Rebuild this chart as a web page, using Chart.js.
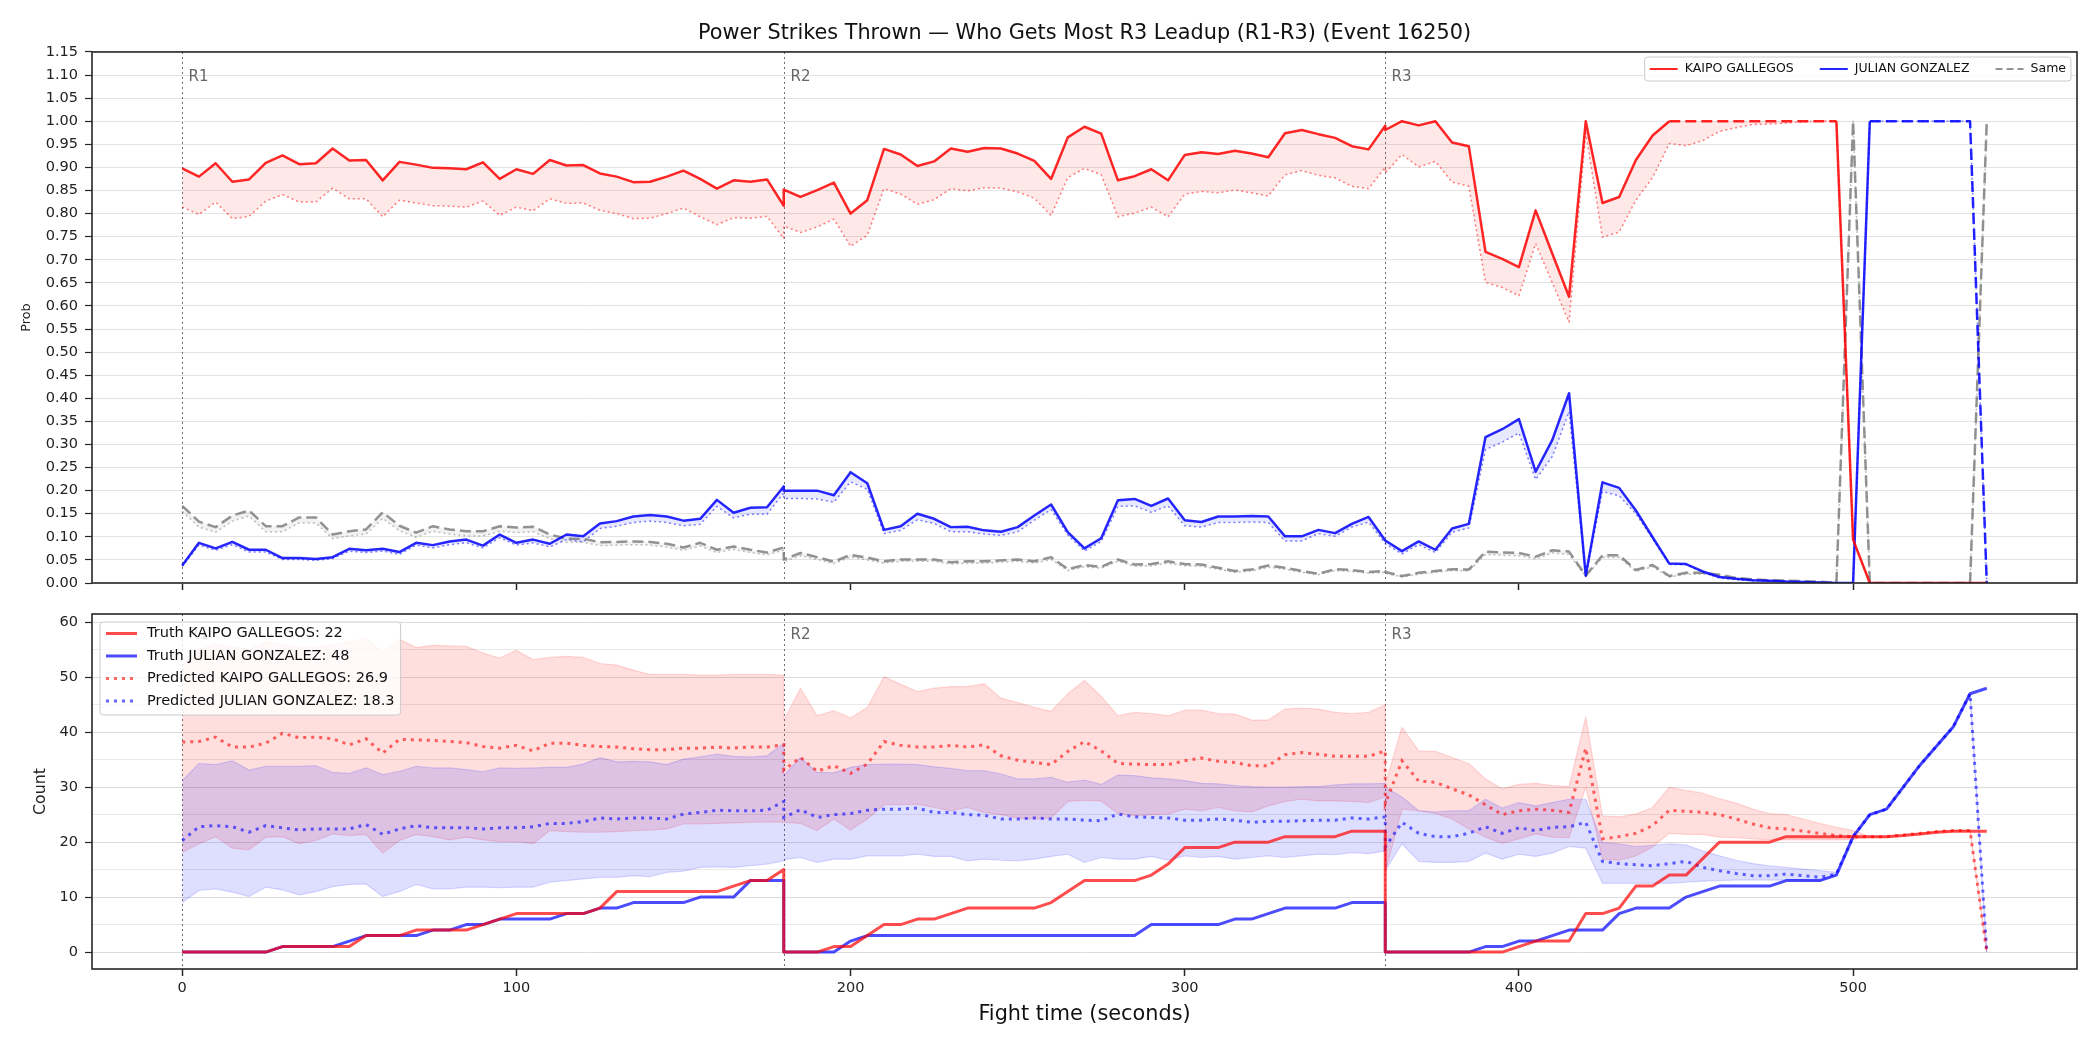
<!DOCTYPE html>
<html>
<head>
<meta charset="utf-8">
<title>Power Strikes Thrown</title>
<script src="https://cdn.jsdelivr.net/npm/chart.js@4.4.1/dist/chart.umd.min.js"></script>
<style>
  html, body { margin: 0; padding: 0; background: #fff; }
  #wrap { position: relative; width: 2100px; height: 1050px; }
  #probCanvas { position: absolute; left: 0; top: 0; width: 2100px; height: 600px; }
  #countCanvas { position: absolute; left: 0; top: 600px; width: 2100px; height: 450px; }
</style>
</head>
<body>
<div id="wrap">
  <canvas id="probCanvas" width="2100" height="600"></canvas>
  <canvas id="countCanvas" width="2100" height="450"></canvas>
</div>
<script>
const FONT = "'DejaVu Sans', sans-serif";

// fight time (s) — each round restarts at its boundary, so 180 and 360 appear twice
const timeSec = [
  0, 5, 10, 15, 20, 25, 30, 35, 40, 45, 50, 55, 60, 65, 70, 75, 80, 85, 90, 95, 100, 105, 110, 115, 120, 125, 130, 135, 140, 145, 150, 155, 160, 165, 170, 175, 180,
  180, 185, 190, 195, 200, 205, 210, 215, 220, 225, 230, 235, 240, 245, 250, 255, 260, 265, 270, 275, 280, 285, 290, 295, 300, 305, 310, 315, 320, 325, 330, 335, 340, 345, 350, 355, 360,
  360, 365, 370, 375, 380, 385, 390, 395, 400, 405, 410, 415, 420, 425, 430, 435, 440, 445, 450, 455, 460, 465, 470, 475, 480, 485, 490, 495, 500, 505, 510, 515, 520, 525, 530, 535, 540
];

// probabilities
const kaipoProb = [
  0.898, 0.880, 0.909, 0.869, 0.874, 0.910, 0.926, 0.907, 0.909, 0.941, 0.915, 0.916, 0.872, 0.912, 0.906, 0.899, 0.898, 0.896, 0.911, 0.875, 0.896, 0.886, 0.916, 0.904, 0.905, 0.887, 0.880, 0.868, 0.869, 0.880, 0.893, 0.875, 0.854, 0.872, 0.869, 0.874, 0.817,
  0.852, 0.836, 0.851, 0.867, 0.800, 0.829, 0.940, 0.928, 0.903, 0.913, 0.941, 0.934, 0.942, 0.941, 0.930, 0.914, 0.875, 0.965, 0.988, 0.973, 0.872, 0.881, 0.896, 0.872, 0.927, 0.933, 0.929, 0.936, 0.930, 0.922, 0.974, 0.981, 0.972, 0.964, 0.946, 0.939, 0.990,
  0.981, 1.000, 0.991, 1.000, 0.954, 0.946, 0.717, 0.702, 0.684, 0.807, 0.713, 0.620, 1.000, 0.823, 0.836, 0.916, 0.969, 1.000, 1.000, 1.000, 1.000, 1.000, 1.000, 1.000, 1.000, 1.000, 1.000, 1.000, 0.094, 0, 0, 0, 0, 0, 0, 0, 0
];
const kaipoProbLow = [
  0.814, 0.798, 0.825, 0.789, 0.794, 0.827, 0.841, 0.825, 0.825, 0.855, 0.832, 0.832, 0.793, 0.829, 0.823, 0.817, 0.816, 0.814, 0.827, 0.796, 0.814, 0.806, 0.832, 0.822, 0.823, 0.807, 0.800, 0.789, 0.790, 0.800, 0.812, 0.793, 0.776, 0.791, 0.790, 0.794, 0.746,
  0.773, 0.759, 0.771, 0.788, 0.729, 0.753, 0.854, 0.842, 0.820, 0.830, 0.854, 0.849, 0.856, 0.855, 0.847, 0.833, 0.796, 0.878, 0.898, 0.884, 0.793, 0.801, 0.814, 0.793, 0.842, 0.848, 0.845, 0.851, 0.845, 0.838, 0.884, 0.893, 0.883, 0.877, 0.859, 0.854, 0.900,
  0.888, 0.928, 0.901, 0.913, 0.868, 0.859, 0.651, 0.640, 0.622, 0.735, 0.650, 0.565, 0.975, 0.749, 0.760, 0.829, 0.878, 0.952, 0.947, 0.958, 0.978, 0.986, 0.993, 0.994, 0.996, 0.999, 1.000, 1.000, 0.094, 0, 0, 0, 0, 0, 0, 0, 0
];
const julianProb = [
  0.038, 0.087, 0.075, 0.089, 0.072, 0.072, 0.054, 0.054, 0.052, 0.056, 0.074, 0.071, 0.074, 0.067, 0.087, 0.082, 0.090, 0.094, 0.081, 0.105, 0.087, 0.094, 0.085, 0.105, 0.101, 0.129, 0.134, 0.144, 0.147, 0.144, 0.135, 0.139, 0.180, 0.152, 0.163, 0.164, 0.209,
  0.200, 0.200, 0.200, 0.190, 0.240, 0.216, 0.115, 0.123, 0.150, 0.139, 0.121, 0.122, 0.114, 0.111, 0.121, 0.146, 0.170, 0.110, 0.075, 0.097, 0.179, 0.182, 0.167, 0.183, 0.136, 0.132, 0.144, 0.144, 0.145, 0.144, 0.101, 0.101, 0.115, 0.108, 0.128, 0.143, 0.092,
  0.092, 0.069, 0.090, 0.072, 0.118, 0.128, 0.316, 0.333, 0.355, 0.241, 0.310, 0.411, 0.016, 0.218, 0.206, 0.157, 0.099, 0.042, 0.041, 0.025, 0.013, 0.009, 0.006, 0.005, 0.003, 0.002, 0.001, 0, 0, 1, 1, 1, 1, 1, 1, 1, 0
];
const julianProbLow = [
  0.036, 0.082, 0.071, 0.083, 0.067, 0.067, 0.051, 0.051, 0.049, 0.053, 0.069, 0.066, 0.069, 0.062, 0.082, 0.076, 0.083, 0.087, 0.076, 0.098, 0.082, 0.087, 0.078, 0.094, 0.089, 0.118, 0.123, 0.131, 0.134, 0.131, 0.124, 0.127, 0.166, 0.141, 0.149, 0.149, 0.195,
  0.183, 0.183, 0.182, 0.175, 0.219, 0.203, 0.107, 0.114, 0.137, 0.129, 0.111, 0.111, 0.106, 0.103, 0.111, 0.136, 0.159, 0.104, 0.069, 0.090, 0.166, 0.167, 0.153, 0.167, 0.124, 0.121, 0.131, 0.131, 0.132, 0.131, 0.091, 0.091, 0.107, 0.101, 0.121, 0.132, 0.085,
  0.085, 0.063, 0.083, 0.066, 0.110, 0.119, 0.289, 0.305, 0.325, 0.224, 0.274, 0.371, 0.014, 0.198, 0.189, 0.150, 0.096, 0.040, 0.040, 0.023, 0.011, 0.007, 0.005, 0.004, 0.002, 0.001, 0.001, 0, 0, 1, 1, 1, 1, 1, 1, 1, 0
];
const sameProb = [
  0.167, 0.133, 0.121, 0.146, 0.157, 0.123, 0.123, 0.142, 0.142, 0.105, 0.112, 0.116, 0.153, 0.124, 0.109, 0.123, 0.116, 0.112, 0.112, 0.123, 0.120, 0.122, 0.105, 0.096, 0.096, 0.088, 0.089, 0.090, 0.089, 0.085, 0.077, 0.087, 0.072, 0.079, 0.072, 0.066, 0.077,
  0.051, 0.065, 0.056, 0.046, 0.061, 0.055, 0.047, 0.051, 0.051, 0.051, 0.045, 0.047, 0.047, 0.049, 0.051, 0.047, 0.056, 0.030, 0.039, 0.035, 0.051, 0.040, 0.041, 0.047, 0.041, 0.040, 0.033, 0.026, 0.029, 0.038, 0.033, 0.026, 0.020, 0.030, 0.028, 0.024, 0.026,
  0.024, 0.015, 0.022, 0.026, 0.030, 0.029, 0.068, 0.066, 0.065, 0.057, 0.071, 0.068, 0.016, 0.060, 0.060, 0.028, 0.039, 0.015, 0.022, 0.022, 0.018, 0.011, 0.008, 0.006, 0.005, 0.004, 0.003, 0, 1, 0, 0, 0, 0, 0, 0, 0, 1
];
const sameProbLow = [
  0.155, 0.121, 0.110, 0.134, 0.145, 0.111, 0.111, 0.130, 0.130, 0.096, 0.102, 0.106, 0.140, 0.113, 0.099, 0.112, 0.106, 0.102, 0.102, 0.112, 0.109, 0.111, 0.096, 0.088, 0.088, 0.081, 0.082, 0.083, 0.082, 0.078, 0.071, 0.080, 0.066, 0.073, 0.066, 0.061, 0.071,
  0.046, 0.059, 0.051, 0.042, 0.056, 0.050, 0.043, 0.047, 0.047, 0.047, 0.041, 0.043, 0.043, 0.045, 0.047, 0.043, 0.051, 0.027, 0.035, 0.032, 0.047, 0.036, 0.037, 0.043, 0.037, 0.036, 0.030, 0.023, 0.026, 0.034, 0.030, 0.023, 0.018, 0.027, 0.025, 0.021, 0.023,
  0.021, 0.013, 0.019, 0.023, 0.027, 0.026, 0.062, 0.060, 0.059, 0.052, 0.065, 0.062, 0.014, 0.055, 0.055, 0.025, 0.035, 0.013, 0.019, 0.019, 0.016, 0.010, 0.007, 0.005, 0.004, 0.003, 0.002, 0, 1, 0, 0, 0, 0, 0, 0, 0, 1
];

// counts
const kaipoTruth = [
  0, 0, 0, 0, 0, 0, 1, 1, 1, 1, 1, 3, 3, 3, 4, 4, 4, 4, 5, 6, 7, 7, 7, 7, 7, 8, 11, 11, 11, 11, 11, 11, 11, 12, 13, 13, 15,
  0, 0, 0, 1, 1, 3, 5, 5, 6, 6, 7, 8, 8, 8, 8, 8, 9, 11, 13, 13, 13, 13, 14, 16, 19, 19, 19, 20, 20, 20, 21, 21, 21, 21, 22, 22, 22,
  0, 0, 0, 0, 0, 0, 0, 0, 1, 2, 2, 2, 7, 7, 8, 12, 12, 14, 14, 17, 20, 20, 20, 20, 21, 21, 21, 21, 21, 21, 21, 21.2, 21.5, 21.8, 22, 22, 22
];
const julianTruth = [
  0, 0, 0, 0, 0, 0, 1, 1, 1, 1, 2, 3, 3, 3, 3, 4, 4, 5, 5, 6, 6, 6, 6, 7, 7, 8, 8, 9, 9, 9, 9, 10, 10, 10, 13, 13, 13,
  0, 0, 0, 0, 2, 3, 3, 3, 3, 3, 3, 3, 3, 3, 3, 3, 3, 3, 3, 3, 3, 3, 5, 5, 5, 5, 5, 6, 6, 7, 8, 8, 8, 8, 9, 9, 9,
  0, 0, 0, 0, 0, 0, 1, 1, 2, 2, 3, 4, 4, 4, 7, 8, 8, 8, 10, 11, 12, 12, 12, 12, 13, 13, 13, 14, 21, 25, 26, 30, 34, 37.5, 41, 47, 48
];
const kaipoPred = [
  38.2, 38.3, 39.1, 37.3, 37.3, 38.0, 39.8, 39.0, 39.1, 38.8, 37.7, 38.8, 36.2, 38.7, 38.6, 38.5, 38.3, 38.1, 37.4, 37.1, 37.6, 36.6, 38.0, 38.0, 37.6, 37.4, 37.3, 37.0, 36.8, 36.8, 37.1, 37.1, 37.3, 37.1, 37.3, 37.3, 37.7,
  33.1, 35.4, 32.9, 33.9, 32.5, 34.2, 38.3, 37.6, 37.3, 37.3, 37.6, 37.3, 37.7, 35.7, 34.9, 34.5, 34.1, 36.5, 38.3, 36.6, 34.3, 34.2, 34.1, 34.1, 34.8, 35.3, 34.7, 34.5, 33.9, 33.9, 35.9, 36.3, 36.0, 35.6, 35.6, 35.6, 36.6,
  27.0, 34.8, 31.1, 30.9, 29.7, 28.6, 26.8, 25.0, 25.7, 26.0, 25.8, 25.4, 37.1, 20.6, 21.0, 21.6, 23.0, 25.8, 25.6, 25.4, 25.0, 24.2, 23.3, 22.6, 22.4, 22.0, 21.6, 21.2, 21.0, 21.0, 21.0, 21.3, 21.6, 21.9, 22.1, 22.1, 0
];
const kaipoPredHi = [
  52.0, 55.0, 56.0, 55.5, 55.0, 56.5, 56.0, 55.5, 55.5, 56.0, 56.5, 57.1, 54.5, 56.9, 55.4, 55.8, 55.7, 55.6, 54.4, 53.5, 54.9, 53.2, 53.6, 53.8, 53.6, 52.5, 52.2, 51.3, 50.5, 50.5, 50.5, 50.4, 50.4, 50.5, 50.5, 50.5, 50.4,
  42.1, 48.0, 43.0, 43.9, 42.6, 44.5, 50.1, 48.7, 47.4, 48.0, 48.3, 48.3, 48.8, 46.2, 45.4, 44.5, 43.8, 47.0, 49.4, 46.5, 43.0, 43.6, 43.4, 43.0, 44.0, 44.0, 43.4, 43.3, 42.2, 42.2, 44.2, 44.4, 44.2, 43.6, 43.4, 43.6, 45.0,
  30.5, 40.9, 36.6, 36.5, 35.4, 34.3, 31.5, 29.7, 30.5, 30.7, 30.3, 30.1, 42.8, 24.8, 24.6, 25.1, 26.3, 30.0, 29.4, 28.9, 27.9, 27.1, 26.0, 25.2, 25.0, 24.2, 23.4, 22.7, 22.1, 21.0, 21.0, 21.3, 21.6, 21.9, 22.1, 22.1, 0
];
const kaipoPredLo = [
  18.1, 19.7, 21.0, 18.9, 18.6, 20.9, 21.0, 19.7, 20.3, 21.5, 21.2, 21.4, 18.0, 20.3, 21.4, 21.0, 20.4, 20.9, 20.4, 20.1, 20.1, 19.7, 22.1, 21.9, 21.8, 21.8, 21.9, 22.1, 22.2, 22.4, 23.3, 23.3, 23.4, 23.5, 23.6, 23.7, 23.6,
  23.6, 23.4, 22.1, 24.2, 22.2, 24.2, 26.8, 26.8, 26.9, 26.3, 25.7, 26.3, 25.4, 25.0, 24.4, 24.2, 24.4, 27.4, 27.6, 27.5, 25.2, 24.8, 25.0, 25.1, 26.0, 25.7, 26.3, 25.7, 25.5, 26.6, 27.4, 27.8, 27.5, 27.5, 27.4, 27.2, 28.2,
  14.5, 26.0, 25.7, 25.2, 24.2, 22.4, 20.9, 19.8, 20.6, 21.5, 20.9, 20.8, 30.0, 16.9, 16.7, 17.5, 19.1, 21.6, 21.4, 21.4, 20.9, 20.8, 20.6, 20.4, 20.4, 20.4, 20.4, 20.4, 20.5, 21.0, 21.0, 21.3, 21.6, 21.9, 22.1, 22.1, 0
];
const julianPred = [
  20.3, 22.8, 23.0, 22.8, 21.8, 23.0, 22.6, 22.2, 22.4, 22.4, 22.4, 23.2, 21.4, 22.4, 23.0, 22.6, 22.6, 22.6, 22.4, 22.6, 22.6, 22.8, 23.4, 23.4, 23.7, 24.4, 24.2, 24.4, 24.4, 24.2, 25.1, 25.4, 25.8, 25.7, 25.7, 25.8, 27.4,
  24.5, 25.9, 24.5, 25.0, 25.2, 25.8, 26.0, 26.0, 26.2, 25.4, 25.4, 25.0, 24.9, 24.2, 24.2, 24.4, 24.2, 24.2, 24.0, 23.9, 25.1, 24.6, 24.5, 24.4, 24.0, 24.0, 24.2, 24.0, 23.6, 23.8, 23.8, 23.9, 24.0, 24.0, 24.4, 24.2, 24.6,
  19.1, 23.6, 21.6, 21.0, 21.0, 21.6, 22.8, 21.6, 22.6, 22.1, 22.7, 22.8, 23.6, 16.5, 16.1, 15.9, 15.7, 16.1, 16.5, 15.4, 14.8, 14.3, 13.9, 13.9, 14.2, 13.9, 13.6, 14.2, 21.0, 25.0, 26.0, 30.0, 34.0, 37.5, 41.0, 47.0, 0
];
const julianPredHi = [
  31.2, 34.3, 34.1, 34.8, 33.1, 33.8, 33.8, 33.8, 33.9, 32.7, 32.5, 33.5, 32.3, 32.9, 33.8, 33.5, 33.5, 33.2, 32.8, 33.5, 33.4, 33.5, 33.6, 33.6, 34.2, 35.4, 34.6, 34.7, 34.6, 34.1, 35.1, 35.5, 36.0, 35.6, 35.5, 35.7, 38.0,
  32.1, 35.4, 32.7, 32.6, 33.6, 34.1, 34.2, 34.2, 34.1, 33.7, 33.4, 33.0, 33.0, 32.4, 31.5, 31.5, 31.8, 30.9, 31.3, 30.5, 32.2, 32.1, 31.7, 31.5, 31.2, 30.7, 30.6, 30.3, 30.1, 30.0, 30.0, 30.1, 30.1, 30.4, 30.6, 30.6, 30.7,
  30.0, 28.2, 25.7, 25.5, 25.7, 25.7, 27.8, 26.2, 27.2, 26.6, 27.2, 27.8, 27.8, 19.9, 19.7, 19.2, 19.4, 19.7, 19.5, 18.4, 17.5, 16.7, 16.1, 15.7, 15.4, 15.1, 14.8, 14.5, 21.0, 25.0, 26.0, 30.0, 34.0, 37.5, 41.0, 47.0, 0
];
const julianPredLo = [
  9.0, 11.2, 11.5, 10.9, 10.1, 11.8, 11.3, 10.4, 11.0, 11.9, 12.3, 12.4, 10.1, 11.0, 12.3, 11.5, 11.5, 11.8, 11.8, 11.7, 11.8, 11.8, 12.7, 13.0, 13.3, 13.6, 13.6, 13.9, 13.7, 14.5, 14.7, 15.4, 15.5, 15.4, 15.7, 16.0, 16.6,
  16.8, 17.2, 16.3, 16.9, 16.9, 17.5, 17.5, 17.5, 17.8, 17.4, 17.4, 16.6, 16.9, 16.7, 16.6, 16.9, 17.4, 17.8, 16.3, 17.2, 16.9, 16.9, 17.4, 16.7, 17.5, 17.2, 17.4, 16.9, 17.2, 17.5, 17.2, 17.5, 17.8, 17.7, 18.1, 17.9, 18.4,
  14.8, 19.7, 16.5, 16.3, 16.3, 16.5, 18.0, 16.9, 17.8, 17.4, 18.0, 19.2, 18.9, 12.5, 12.5, 12.5, 12.5, 12.5, 12.7, 12.9, 13.0, 13.1, 13.1, 13.1, 13.1, 13.1, 12.9, 14.1, 21.0, 25.0, 26.0, 30.0, 34.0, 37.5, 41.0, 47.0, 0
];

// axes / markers
const roundStarts = [0, 180, 360];
const roundNames = ["R1", "R2", "R3"];
const timeTicks = [0, 100, 200, 300, 400, 500];
const probTicks = [0, 0.05, 0.1, 0.15, 0.2, 0.25, 0.3, 0.35, 0.4, 0.45, 0.5, 0.55, 0.6, 0.65, 0.7, 0.75, 0.8, 0.85, 0.9, 0.95, 1.0, 1.05, 1.1, 1.15];
const countTicks = [0, 5, 10, 15, 20, 25, 30, 35, 40, 45, 50, 55, 60];

Chart.defaults.font.family = FONT;

function pts(values) {
  return timeSec.map((t, i) => ({ x: t, y: values[i] }));
}

// box around the plot area (matplotlib spines)
const frame = {
  id: "frame",
  afterDatasetsDraw(chart) {
    const { ctx, chartArea: a } = chart;
    ctx.save();
    ctx.strokeStyle = "#262626";
    ctx.lineWidth = 1.6;
    ctx.strokeRect(a.left, a.top, a.right - a.left, a.bottom - a.top);
    ctx.restore();
  }
};

// dotted round boundaries + R1/R2/R3 labels
const roundMarks = {
  id: "roundMarks",
  beforeDatasetsDraw(chart, args, opts) {
    const { ctx, chartArea } = chart;
    const xs = chart.scales.x;
    const ys = chart.scales.y;
    ctx.save();
    ctx.strokeStyle = "rgba(60,60,60,0.75)";
    ctx.lineWidth = 1;
    ctx.setLineDash([2, 3]);
    ctx.font = "15px " + FONT;
    ctx.fillStyle = "#666";
    ctx.textBaseline = "middle";
    roundStarts.forEach((t, i) => {
      const px = Math.round(xs.getPixelForValue(t)) + 0.5;
      ctx.beginPath();
      ctx.moveTo(px, chartArea.top);
      ctx.lineTo(px, chartArea.bottom);
      ctx.stroke();
      ctx.fillText(roundNames[i], px + 6, ys.getPixelForValue(opts.labelAt));
    });
    ctx.restore();
  }
};

// legend drawn inside the plot
const boxLegend = {
  id: "boxLegend",
  afterDraw(chart, args, o) {
    if (!o.items) return;
    const ctx = chart.ctx;
    ctx.save();
    ctx.font = o.fontSize + "px " + FONT;
    const tw = o.items.map(it => ctx.measureText(it.text).width);
    let w;
    if (o.row) {
      w = o.padX * 2 + tw.reduce((s, v) => s + o.sample + o.gap + v, 0) + o.itemGap * (o.items.length - 1);
    } else {
      w = o.padX * 2 + o.sample + o.gap + Math.max(...tw);
    }
    const left = o.right !== undefined ? o.right - w : o.left;
    const top = o.top;
    ctx.beginPath();
    if (ctx.roundRect) ctx.roundRect(left, top, w, o.height, 3);
    else ctx.rect(left, top, w, o.height);
    ctx.fillStyle = "rgba(255,255,255,0.8)";
    ctx.fill();
    ctx.strokeStyle = "#cccccc";
    ctx.lineWidth = 1;
    ctx.stroke();
    let x = left + o.padX;
    o.items.forEach((it, i) => {
      const y = o.row ? top + o.firstY : top + o.firstY + i * o.rowH;
      const sx = o.row ? x : left + o.padX;
      ctx.beginPath();
      ctx.setLineDash(it.dash || []);
      ctx.strokeStyle = it.color;
      ctx.lineWidth = it.width;
      ctx.moveTo(sx, y);
      ctx.lineTo(sx + o.sample, y);
      ctx.stroke();
      ctx.setLineDash([]);
      ctx.fillStyle = "#111";
      ctx.textBaseline = "middle";
      ctx.textAlign = "left";
      ctx.fillText(it.text, sx + o.sample + o.gap, y);
      if (o.row) x = sx + o.sample + o.gap + tw[i] + o.itemGap;
    });
    ctx.restore();
  }
};

const X_MIN = -27;
const X_MAX = 567;
const tickFont = { family: FONT, size: 14.5 };

// dashed where the probability sits at 1 (and the last fall from 1)
const flatAtOne = ctx => {
  const a = ctx.p0.parsed, b = ctx.p1.parsed;
  if (a.y > 0.999 && (b.y > 0.999 || a.x > 500)) return [11, 5];
  return undefined;
};

function lineSet(extra) {
  return Object.assign({ pointRadius: 0, tension: 0, borderJoinStyle: "round", fill: false }, extra);
}

// ---------- top: probabilities ----------
new Chart(document.getElementById("probCanvas"), {
  type: "line",
  data: {
    datasets: [
      lineSet({ label: "KAIPO GALLEGOS", data: pts(kaipoProb), borderColor: "rgba(255,0,0,0.85)", borderWidth: 2.5, order: 0, segment: { borderDash: flatAtOne } }),
      lineSet({ label: "KAIPO low", data: pts(kaipoProbLow), borderColor: "rgba(255,0,0,0.5)", borderWidth: 1.5, borderDash: [2, 3], fill: "-1", backgroundColor: "rgba(255,0,0,0.09)", order: 3 }),
      lineSet({ label: "JULIAN GONZALEZ", data: pts(julianProb), borderColor: "rgba(0,0,255,0.85)", borderWidth: 2.5, order: 1, segment: { borderDash: flatAtOne } }),
      lineSet({ label: "JULIAN low", data: pts(julianProbLow), borderColor: "rgba(0,0,255,0.5)", borderWidth: 1.5, borderDash: [2, 3], fill: "-1", backgroundColor: "rgba(0,0,255,0.09)", order: 4 }),
      lineSet({ label: "Same", data: pts(sameProb), borderColor: "rgba(128,128,128,0.85)", borderWidth: 2.5, borderDash: [11, 5], order: 2 }),
      lineSet({ label: "Same low", data: pts(sameProbLow), borderColor: "rgba(128,128,128,0.5)", borderWidth: 1.5, borderDash: [2, 3], fill: "-1", backgroundColor: "rgba(128,128,128,0.1)", order: 5 })
    ]
  },
  options: {
    responsive: false,
    animation: false,
    devicePixelRatio: 1,
    layout: { padding: { left: 0, right: 23, top: 0, bottom: 0 } },
    scales: {
      x: {
        type: "linear",
        min: X_MIN,
        max: X_MAX,
        afterBuildTicks: s => { s.ticks = timeTicks.map(v => ({ value: v })); },
        ticks: { display: false, autoSkip: false },
        grid: { drawOnChartArea: false, drawTicks: true, tickLength: 7, tickColor: "#262626", tickWidth: 1.5 },
        border: { display: false },
        afterFit: s => { s.height = 17; s.paddingLeft = 0; s.paddingRight = 0; }
      },
      y: {
        min: 0,
        max: 1.15,
        afterBuildTicks: s => { s.ticks = probTicks.map(v => ({ value: v })); },
        ticks: { font: tickFont, color: "#222", padding: 7, autoSkip: false, callback: v => Number(v).toFixed(2) },
        grid: { color: "#e3e3e3", lineWidth: 1, drawTicks: true, tickLength: 7, tickColor: "#262626", tickWidth: 1.2 },
        border: { display: false },
        title: { display: true, text: "Prob", color: "#222", font: { family: FONT, size: 12.8 }, padding: { top: 19, bottom: 0 } },
        afterFit: s => { s.width = 92; s.paddingTop = 0; s.paddingBottom = 0; }
      }
    },
    plugins: {
      legend: { display: false },
      tooltip: { enabled: false },
      title: {
        display: true,
        fullSize: false,
        text: "Power Strikes Thrown — Who Gets Most R3 Leadup (R1-R3) (Event 16250)",
        color: "#111",
        font: { family: FONT, size: 20.8, weight: "normal" },
        padding: { top: 21, bottom: 6 }
      },
      roundMarks: { labelAt: 1.095 },
      boxLegend: {
        row: true, right: 2071, top: 57, height: 24, firstY: 12,
        padX: 5, sample: 28, gap: 7, itemGap: 26, fontSize: 12.5,
        items: [
          { text: "KAIPO GALLEGOS", color: "rgba(255,0,0,0.85)", width: 2 },
          { text: "JULIAN GONZALEZ", color: "rgba(0,0,255,0.85)", width: 2 },
          { text: "Same", color: "rgba(128,128,128,0.85)", width: 2, dash: [7, 4] }
        ]
      }
    }
  },
  plugins: [roundMarks, frame, boxLegend]
});

// ---------- bottom: counts ----------
new Chart(document.getElementById("countCanvas"), {
  type: "line",
  data: {
    datasets: [
      lineSet({ label: "Truth KAIPO GALLEGOS: 22", data: pts(kaipoTruth), borderColor: "rgba(255,0,0,0.7)", borderWidth: 3, order: 0 }),
      lineSet({ label: "Truth JULIAN GONZALEZ: 48", data: pts(julianTruth), borderColor: "rgba(0,0,255,0.7)", borderWidth: 3, order: 1 }),
      lineSet({ label: "Predicted KAIPO GALLEGOS: 26.9", data: pts(kaipoPred), borderColor: "rgba(255,0,0,0.6)", borderWidth: 3, borderDash: [3, 5], borderJoinStyle: "miter", order: 2 }),
      lineSet({ label: "Predicted JULIAN GONZALEZ: 18.3", data: pts(julianPred), borderColor: "rgba(0,0,255,0.6)", borderWidth: 3, borderDash: [3, 5], borderJoinStyle: "miter", order: 3 }),
      lineSet({ label: "KAIPO hi", data: pts(kaipoPredHi), borderColor: "rgba(255,0,0,0.14)", borderWidth: 1.2, order: 7 }),
      lineSet({ label: "KAIPO lo", data: pts(kaipoPredLo), borderColor: "rgba(255,0,0,0.14)", borderWidth: 1.2, fill: "-1", backgroundColor: "rgba(255,0,0,0.13)", order: 6 }),
      lineSet({ label: "JULIAN hi", data: pts(julianPredHi), borderColor: "rgba(0,0,255,0.14)", borderWidth: 1.2, order: 5 }),
      lineSet({ label: "JULIAN lo", data: pts(julianPredLo), borderColor: "rgba(0,0,255,0.14)", borderWidth: 1.2, fill: "-1", backgroundColor: "rgba(0,0,255,0.13)", order: 4 })
    ]
  },
  options: {
    responsive: false,
    animation: false,
    devicePixelRatio: 1,
    layout: { padding: { left: 0, right: 23, top: 14, bottom: 0 } },
    scales: {
      x: {
        type: "linear",
        min: X_MIN,
        max: X_MAX,
        afterBuildTicks: s => { s.ticks = timeTicks.map(v => ({ value: v })); },
        ticks: { font: tickFont, color: "#222", padding: 4, autoSkip: false, maxRotation: 0 },
        grid: { drawOnChartArea: false, drawTicks: true, tickLength: 7, tickColor: "#262626", tickWidth: 1.5 },
        border: { display: false },
        title: { display: true, text: "Fight time (seconds)", color: "#111", font: { family: FONT, size: 20.8 }, padding: { top: 0, bottom: 22.5 } },
        afterFit: s => { s.height = 81; s.paddingLeft = 0; s.paddingRight = 0; }
      },
      y: {
        min: -3.08,
        max: 61.5,
        afterBuildTicks: s => { s.ticks = countTicks.map(v => ({ value: v })); },
        ticks: { font: tickFont, color: "#222", padding: 7, autoSkip: false, callback: v => (v % 10 === 0 ? String(v) : "") },
        grid: {
          color: c => (c.tick && c.tick.value % 10 === 0 ? "#dcdcdc" : "#e9e9e9"),
          lineWidth: 1,
          drawTicks: true,
          tickLength: 7,
          tickColor: c => (c.tick && c.tick.value % 10 === 0 ? "#262626" : "rgba(0,0,0,0)"),
          tickWidth: 1.2
        },
        border: { display: false },
        title: { display: true, text: "Count", color: "#222", font: { family: FONT, size: 15.8 }, padding: { top: 31, bottom: 0 } },
        afterFit: s => { s.width = 92; s.paddingTop = 0; s.paddingBottom = 0; }
      }
    },
    plugins: {
      legend: { display: false },
      tooltip: { enabled: false },
      roundMarks: { labelAt: 57.7 },
      boxLegend: {
        row: false, left: 100, top: 22, height: 93, firstY: 11.5, rowH: 22.5,
        padX: 6, sample: 31, gap: 10, fontSize: 14.5,
        items: [
          { text: "Truth KAIPO GALLEGOS: 22", color: "rgba(255,0,0,0.7)", width: 3 },
          { text: "Truth JULIAN GONZALEZ: 48", color: "rgba(0,0,255,0.7)", width: 3 },
          { text: "Predicted KAIPO GALLEGOS: 26.9", color: "rgba(255,0,0,0.6)", width: 3, dash: [3, 5] },
          { text: "Predicted JULIAN GONZALEZ: 18.3", color: "rgba(0,0,255,0.6)", width: 3, dash: [3, 5] }
        ]
      }
    }
  },
  plugins: [roundMarks, frame, boxLegend]
});
</script>
</body>
</html>
